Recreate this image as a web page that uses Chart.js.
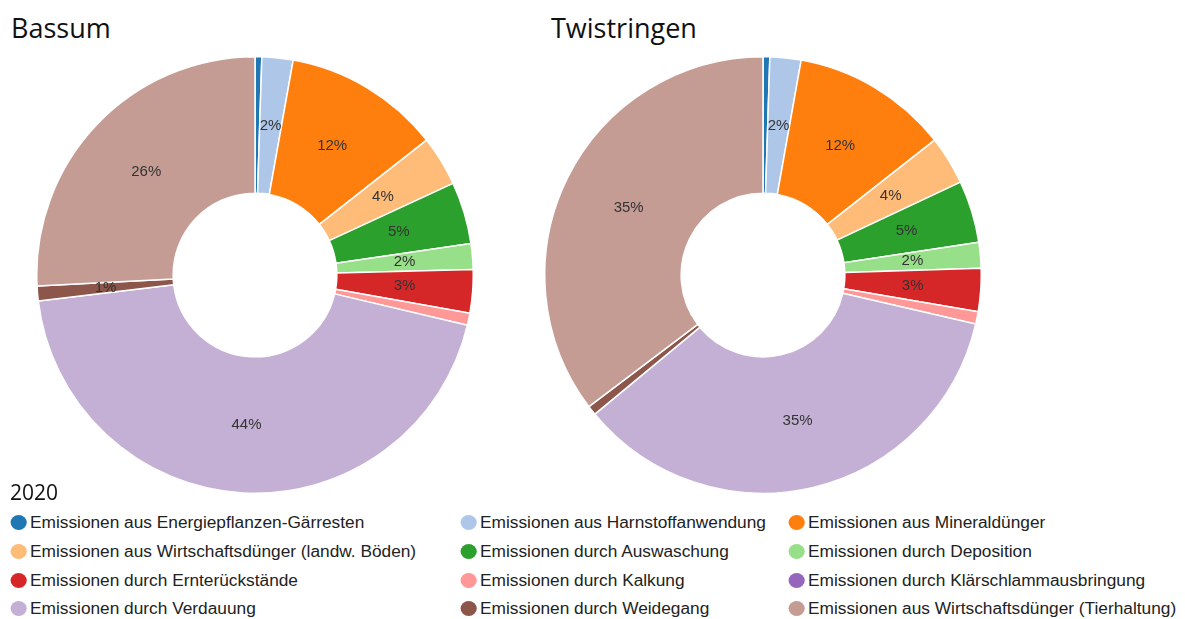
<!DOCTYPE html>
<html>
<head>
<meta charset="utf-8">
<script src="https://cdn.jsdelivr.net/npm/chart.js@4.4.1/dist/chart.umd.min.js"></script>
<style>
    body { margin: 0; background: #fff; width: 1185px; height: 619px; overflow: hidden; position: relative; }
    .title { position: absolute; font-family: "Open Sans", sans-serif; font-size: 27px; color: #111; }
    canvas { position: absolute; }
    #year { position: absolute; left: 10px; top: 478px; font-family: "Open Sans", sans-serif; font-size: 21px; color: #111; }
    .item { position: absolute; font-family: "Liberation Sans", Arial, sans-serif; font-size: 16px; color: #222;
            white-space: nowrap; transform: scaleX(1.08); transform-origin: left center; }
    .item span { position: absolute; left: -18px; top: 1px; width: 15px; height: 15px; border-radius: 50%; }
</style>
</head>
<body>
<div class="title" style="left:11px; top:9px;">Bassum</div>
<div class="title" style="left:551px; top:9px;">Twistringen</div>
<canvas id="bassum" width="438" height="438" style="left:36px; top:56px;"></canvas>
<canvas id="twistringen" width="438" height="438" style="left:544px; top:56px;"></canvas>
<div id="year">2020</div>
<div id="legend"></div>
<script>
// Kategorien (Reihenfolge wie in der Legende)
const categories = [
    "Emissionen aus Energiepflanzen-Gärresten",
    "Emissionen aus Harnstoffanwendung",
    "Emissionen aus Mineraldünger",
    "Emissionen aus Wirtschaftsdünger (landw. Böden)",
    "Emissionen durch Auswaschung",
    "Emissionen durch Deposition",
    "Emissionen durch Ernterückstände",
    "Emissionen durch Kalkung",
    "Emissionen durch Klärschlammausbringung",
    "Emissionen durch Verdauung",
    "Emissionen durch Weidegang",
    "Emissionen aus Wirtschaftsdünger (Tierhaltung)"
];

// Anteile in % (aus dem Bild geschätzt)
const bassumValues = [0.5, 2.3, 11.6, 3.7, 4.6, 1.9, 3.2, 0.9, 0, 44.4, 1.1, 25.8];
const twistringenValues = [0.5, 2.3, 11.6, 3.6, 4.6, 1.9, 3.2, 0.9, 0, 35.4, 0.7, 35.3];

const colors = ["#1f77b4", "#aec7e8", "#ff7f0e", "#ffbb78", "#2ca02c", "#98df8a",
                "#d62728", "#ff9896", "#9467bd", "#c5b0d5", "#8c564b", "#c49c94"];

// percentage labels inside the ring
const sliceLabels = {
    id: "sliceLabels",
    afterDatasetsDraw(chart) {
        const ctx = chart.ctx;
        const data = chart.data.datasets[0].data;
        const total = data.reduce((a, b) => a + b, 0);
        ctx.save();
        ctx.font = "15px 'Liberation Sans', Arial, sans-serif";
        ctx.fillStyle = "#333";
        ctx.textAlign = "center";
        ctx.textBaseline = "middle";
        chart.getDatasetMeta(0).data.forEach((arc, i) => {
            const pct = data[i] / total * 100;
            if (pct < 1) return;
            const p = arc.tooltipPosition();
            ctx.fillText(Math.round(pct) + "%", p.x, p.y);
        });
        ctx.restore();
    }
};

function makeChart(id, values) {
    new Chart(document.getElementById(id), {
        type: "doughnut",
        data: {
            labels: categories,
            datasets: [{
                data: values,
                backgroundColor: colors,
                borderColor: "#fff",
                borderWidth: 1.5
            }]
        },
        options: {
            responsive: false,
            animation: false,
            cutout: "37.5%",
            plugins: {
                legend: { display: false },
                tooltip: { enabled: false }
            }
        },
        plugins: [sliceLabels]
    });
}

makeChart("bassum", bassumValues);
makeChart("twistringen", twistringenValues);

// legend, 3 columns
const legend = document.getElementById("legend");
const colX = [30, 480, 808];
const rowY = [514, 543, 572, 600];
categories.forEach((name, i) => {
    const el = document.createElement("div");
    el.className = "item";
    el.style.left = colX[i % 3] + "px";
    el.style.top = rowY[Math.floor(i / 3)] + "px";
    el.innerHTML = '<span style="background:' + colors[i] + '"></span>' + name;
    legend.appendChild(el);
});
</script>
</body>
</html>
